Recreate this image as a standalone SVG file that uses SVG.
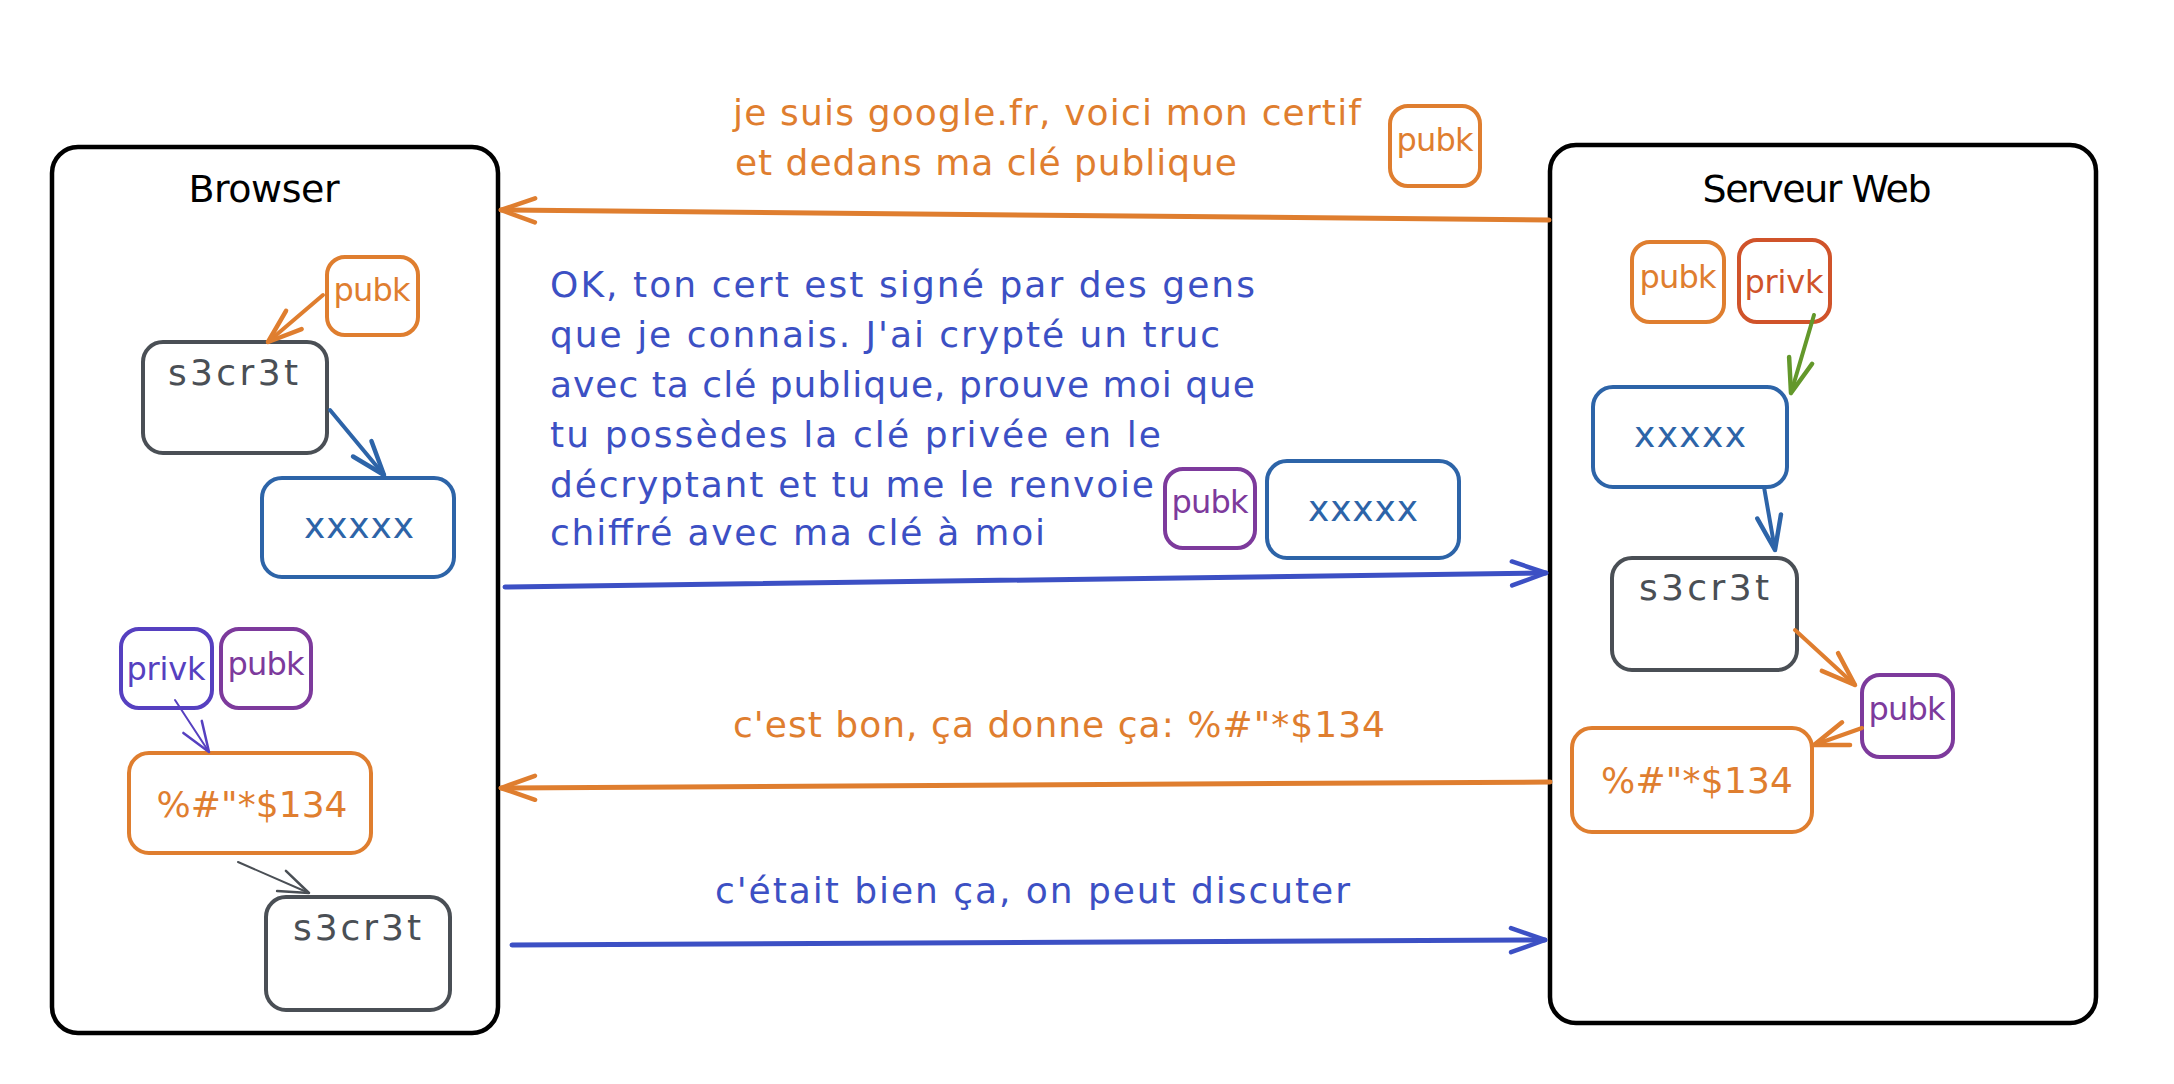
<svg xmlns="http://www.w3.org/2000/svg" width="2174" height="1084" viewBox="0 0 2174 1084">
<style>
  text { font-family: "DejaVu Sans", "Liberation Sans", sans-serif; }
  .box { fill: none; stroke-width: 4; stroke-linejoin: round; }
  .cont { fill: #fff; stroke: #000; stroke-width: 4.5; }
  .orange { stroke: #df7e2f; }
  .blue { stroke: #2d64a8; }
  .gray { stroke: #4a4f55; }
  .violet { stroke: #5640c0; }
  .purple { stroke: #7d3a9c; }
  .red { stroke: #d0532a; }
  .t-orange { fill: #df7e2f; }
  .t-blue { fill: #2d64a8; }
  .t-gray { fill: #4a4f55; }
  .t-violet { fill: #5640c0; }
  .t-purple { fill: #7d3a9c; }
  .t-red { fill: #d0532a; }
  .t-indigo { fill: #3c50c4; }
  .lbl { font-size: 32px; text-anchor: middle; }
  .val { font-size: 36px; text-anchor: middle; }
  .title { font-size: 38px; text-anchor: middle; fill: #000; }
  .msg { font-size: 36px; }
  .conn { fill: none; stroke-linecap: round; }
</style>
<defs>
  <marker id="a-orange" viewBox="-40 -20 44 40" refX="0" refY="0" markerWidth="44" markerHeight="40" markerUnits="userSpaceOnUse" orient="auto">
    <path d="M-34 -12 L0 0 L-34 12" fill="none" stroke="#df7e2f" stroke-width="4.5" stroke-linecap="round" stroke-linejoin="round"/>
  </marker>
  <marker id="a-indigo" viewBox="-40 -20 44 40" refX="0" refY="0" markerWidth="44" markerHeight="40" markerUnits="userSpaceOnUse" orient="auto">
    <path d="M-34 -12 L0 0 L-34 12" fill="none" stroke="#3c50c4" stroke-width="4.5" stroke-linecap="round" stroke-linejoin="round"/>
  </marker>
  <marker id="a-blue" viewBox="-40 -20 44 40" refX="0" refY="0" markerWidth="44" markerHeight="40" markerUnits="userSpaceOnUse" orient="auto">
    <path d="M-34 -12 L0 0 L-34 12" fill="none" stroke="#2d64a8" stroke-width="4.5" stroke-linecap="round" stroke-linejoin="round"/>
  </marker>
  <marker id="a-green" viewBox="-40 -20 44 40" refX="0" refY="0" markerWidth="44" markerHeight="40" markerUnits="userSpaceOnUse" orient="auto">
    <path d="M-34 -12 L0 0 L-34 12" fill="none" stroke="#63982b" stroke-width="4.5" stroke-linecap="round" stroke-linejoin="round"/>
  </marker>
  <marker id="a-violet" viewBox="-40 -20 44 40" refX="0" refY="0" markerWidth="44" markerHeight="40" markerUnits="userSpaceOnUse" orient="auto">
    <path d="M-30 -11 L0 0 L-30 11" fill="none" stroke="#5640c0" stroke-width="2.5" stroke-linecap="round" stroke-linejoin="round"/>
  </marker>
  <marker id="a-gray" viewBox="-40 -20 44 40" refX="0" refY="0" markerWidth="44" markerHeight="40" markerUnits="userSpaceOnUse" orient="auto">
    <path d="M-30 -11 L0 0 L-30 11" fill="none" stroke="#4a4f55" stroke-width="2.5" stroke-linecap="round" stroke-linejoin="round"/>
  </marker>
</defs>
<rect width="2174" height="1084" fill="#fff"/>

<g id="browser">
  <rect class="cont" x="52" y="147" width="446" height="886" rx="26"/>
  <text class="title" x="264" y="202" textLength="151">Browser</text>
</g>
<g id="server">
  <rect class="cont" x="1550" y="145" width="546" height="878" rx="26"/>
  <text class="title" x="1817" y="202" textLength="229">Serveur Web</text>
</g>

<g id="b-pubk">
  <rect class="box orange" x="327" y="257" width="91" height="78" rx="18"/>
  <text class="lbl t-orange" x="372" y="301" textLength="77">pubk</text>
</g>
<g id="b-secret1">
  <rect class="box gray" x="143" y="342" width="184" height="111" rx="20"/>
  <text class="val t-gray" x="233" y="385" textLength="130">s3cr3t</text>
</g>
<g id="b-xxxxx">
  <rect class="box blue" x="262" y="478" width="192" height="99" rx="20"/>
  <text class="val t-blue" x="359" y="538" textLength="110">xxxxx</text>
</g>
<g id="b-privk">
  <rect class="box violet" x="121" y="629" width="91" height="79" rx="18"/>
  <text class="lbl t-violet" x="166" y="680" textLength="79">privk</text>
</g>
<g id="b-pubk2">
  <rect class="box purple" x="221" y="629" width="90" height="79" rx="18"/>
  <text class="lbl t-purple" x="266" y="675" textLength="77">pubk</text>
</g>
<g id="b-cipher">
  <rect class="box orange" x="129" y="753" width="242" height="100" rx="20"/>
  <text class="val t-orange" x="252" y="817" textLength="191">%#"*$134</text>
</g>
<g id="b-secret2">
  <rect class="box gray" x="266" y="897" width="184" height="113" rx="20"/>
  <text class="val t-gray" x="357" y="940" textLength="128">s3cr3t</text>
</g>

<g id="s-pubk">
  <rect class="box orange" x="1632" y="242" width="92" height="80" rx="18"/>
  <text class="lbl t-orange" x="1678" y="288" textLength="77">pubk</text>
</g>
<g id="s-privk">
  <rect class="box red" x="1739" y="240" width="91" height="82" rx="18"/>
  <text class="lbl t-red" x="1784" y="293" textLength="79">privk</text>
</g>
<g id="s-xxxxx">
  <rect class="box blue" x="1593" y="387" width="194" height="100" rx="20"/>
  <text class="val t-blue" x="1690" y="447" textLength="112">xxxxx</text>
</g>
<g id="s-secret">
  <rect class="box gray" x="1612" y="558" width="185" height="112" rx="20"/>
  <text class="val t-gray" x="1704" y="600" textLength="130">s3cr3t</text>
</g>
<g id="s-pubk2">
  <rect class="box purple" x="1862" y="675" width="91" height="82" rx="18"/>
  <text class="lbl t-purple" x="1907" y="720" textLength="77">pubk</text>
</g>
<g id="s-cipher">
  <rect class="box orange" x="1572" y="728" width="240" height="104" rx="20"/>
  <text class="val t-orange" x="1697" y="793" textLength="192">%#"*$134</text>
</g>

<g id="m-cert">
  <text class="msg t-orange" x="733" y="125" textLength="628">je suis google.fr, voici mon certif</text>
  <text class="msg t-orange" x="735" y="175" textLength="502">et dedans ma clé publique</text>
</g>
<g id="m-pubk">
  <rect class="box orange" x="1390" y="106" width="90" height="80" rx="18"/>
  <text class="lbl t-orange" x="1435" y="151" textLength="77">pubk</text>
</g>
<g id="m-challenge">
  <text class="msg t-indigo" x="550" y="297" textLength="705">OK, ton cert est signé par des gens</text>
  <text class="msg t-indigo" x="550" y="347" textLength="670">que je connais. J'ai crypté un truc</text>
  <text class="msg t-indigo" x="550" y="397" textLength="705">avec ta clé publique, prouve moi que</text>
  <text class="msg t-indigo" x="550" y="447" textLength="611">tu possèdes la clé privée en le</text>
  <text class="msg t-indigo" x="550" y="497" textLength="604">décryptant et tu me le renvoie</text>
  <text class="msg t-indigo" x="550" y="545" textLength="495">chiffré avec ma clé à moi</text>
</g>
<g id="m-pubk2">
  <rect class="box purple" x="1165" y="469" width="90" height="79" rx="18"/>
  <text class="lbl t-purple" x="1210" y="513" textLength="77">pubk</text>
</g>
<g id="m-xxxxx">
  <rect class="box blue" x="1267" y="461" width="192" height="97" rx="20"/>
  <text class="val t-blue" x="1363" y="521" textLength="110">xxxxx</text>
</g>
<g id="m-answer">
  <text class="msg t-orange" x="733" y="737" textLength="652">c'est bon, ça donne ça: %#"*$134</text>
</g>
<g id="m-ok">
  <text class="msg t-indigo" x="715" y="903" textLength="635">c'était bien ça, on peut discuter</text>
</g>

<g id="connectors">
  <path class="conn" d="M1549 220 L501 210" stroke="#df7e2f" stroke-width="5" marker-end="url(#a-orange)"/>
  <path class="conn" d="M505 587 L1546 573" stroke="#3c50c4" stroke-width="5" marker-end="url(#a-indigo)"/>
  <path class="conn" d="M1550 782 L501 788" stroke="#df7e2f" stroke-width="5" marker-end="url(#a-orange)"/>
  <path class="conn" d="M512 945 L1545 940" stroke="#3c50c4" stroke-width="5" marker-end="url(#a-indigo)"/>
  <path class="conn" d="M323 295 L268 342" stroke="#df7e2f" stroke-width="4" marker-end="url(#a-orange)"/>
  <path class="conn" d="M330 410 L384 475" stroke="#2d64a8" stroke-width="4" marker-end="url(#a-blue)"/>
  <path class="conn" d="M175 700 L209 752" stroke="#5640c0" stroke-width="2" marker-end="url(#a-violet)"/>
  <path class="conn" d="M238 862 L309 893" stroke="#4a4f55" stroke-width="2" marker-end="url(#a-gray)"/>
  <path class="conn" d="M1814 315 L1791 393" stroke="#63982b" stroke-width="4" marker-end="url(#a-green)"/>
  <path class="conn" d="M1764 487 L1775 550" stroke="#2d64a8" stroke-width="4" marker-end="url(#a-blue)"/>
  <path class="conn" d="M1795 630 L1855 685" stroke="#df7e2f" stroke-width="4" marker-end="url(#a-orange)"/>
  <path class="conn" d="M1862 728 L1814 745" stroke="#df7e2f" stroke-width="4" marker-end="url(#a-orange)"/>
</g>
</svg>
